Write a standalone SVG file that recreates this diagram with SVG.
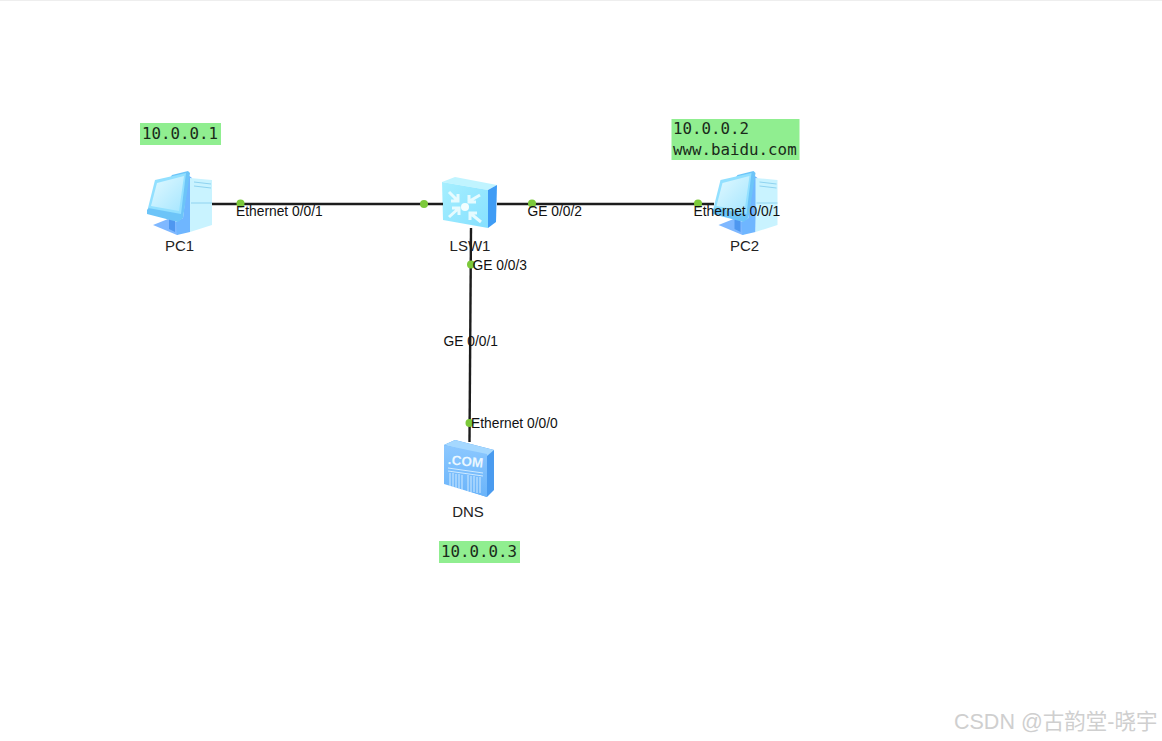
<svg xmlns="http://www.w3.org/2000/svg" width="1162" height="741" viewBox="0 0 1162 741">
<style>
text{font-family:"Liberation Sans",Arial,sans-serif;fill:#111}
.lbl{font-size:13.8px}
.name{font-size:15px;text-anchor:middle;fill:#222}
.ip{font-family:"DejaVu Sans Mono","Liberation Mono",monospace;font-size:15.8px;fill:#1a2a1a}
.box{fill:#90ee90}
.link{stroke:#1c1c1c;stroke-width:2.4;fill:none}
.dot{fill:#7cc93a}
.wm{font-family:"Liberation Sans","Noto Sans CJK SC",sans-serif;font-size:21.5px;fill:#cfcfcf}
</style>
<defs>
<linearGradient id="scr" x1="0" y1="0" x2="1" y2="1"><stop offset="0" stop-color="#e2f9ff"/><stop offset="1" stop-color="#a6e6ff"/></linearGradient>
<linearGradient id="sw" x1="0" y1="0" x2="1" y2="1"><stop offset="0" stop-color="#a6efff"/><stop offset="1" stop-color="#86e0ff"/></linearGradient>
<linearGradient id="dn" x1="0" y1="0" x2="0" y2="1"><stop offset="0" stop-color="#8cc8ff"/><stop offset="1" stop-color="#6ab4fa"/></linearGradient>
<g id="pc">
<path d="M153 225 L168 219 L190 226 L177 235Z" fill="#7fb8ff"/>
<path d="M169 217 L175 217 L175 232 L169 229Z" fill="#4e97f0"/>
<path d="M188 175 L192 178 L190 232 L177 235 L176 222 L183 218Z" fill="#6fb6ff"/>
<path d="M172 175 L188 171 L190 173 L183 218 L178 222 L147 214 L147 210Z" fill="#6cc4f8"/>
<path d="M155 180 L186 173 L181 214 L148 208Z" fill="#92e0ff"/>
<path d="M157 183 L184 176 L179 211 L151 206Z" fill="url(#scr)"/>
<path d="M190 178 L212 180 L212 225 L190 232Z" fill="#c9f3ff"/>
<path d="M194 182 L211 184 M194 186 L211 188 M191 203 L212 203" stroke="#8fd3f0" stroke-width="1" fill="none"/>
</g>
</defs>
<rect width="1162" height="741" fill="#fff"/>
<rect width="1162" height="1" fill="#eee"/>

<g id="PC1">
<use href="#pc"/>
<text class="name" x="179.500" y="251">PC1</text>
<rect class="box" x="140" y="123" width="81" height="22"/>
<text class="ip" x="142" y="138.500">10.0.0.1</text>
</g>

<g id="PC2">
<use href="#pc" x="565.500"/>
<text class="name" x="744.500" y="251">PC2</text>
<rect class="box" x="671.500" y="119" width="128" height="41"/>
<text class="ip" x="673" y="134">10.0.0.2</text>
<text class="ip" x="673" y="154.500">www.baidu.com</text>
</g>

<g id="LSW1">
<path d="M442 182 L455 177 L497 185 L488 190Z" fill="#c0f4ff"/>
<path d="M488 190 L497 185 L496 222 L488 228Z" fill="#3f9cf5"/>
<path d="M442 182 L488 190 L488 228 L443 220Z" fill="url(#sw)"/>
<g stroke="#e6fbff" stroke-width="3" fill="none">
<path d="M449 192L458 201M458 194V201H451"/>
<path d="M480 195L468 202M469 195V202H476"/>
<path d="M449 217L459 208M452 208H459V215"/>
<path d="M481 222L470 213M470 220V213H477"/>
</g>
<circle cx="465" cy="207" r="4" fill="#f2feff"/>
<text class="name" x="470" y="251">LSW1</text>
</g>

<g id="DNS">
<path d="M444 445 L455 440 L494 450 L494 490 L487 497 L444 483Z" fill="#4a9bef"/>
<path d="M444 445 L455 440 L494 450 L487 456Z" fill="#a5d8ff"/>
<path d="M444 445 L487 454 L487 497 L444 484Z" fill="url(#dn)"/>
<text x="465.500" y="466" font-size="13.500" font-weight="700" text-anchor="middle" style="fill:#eaf7ff" transform="rotate(6 466 462)">.COM</text>
<path d="M448 468L483 473M448 471L483 476" stroke="#cfeaff" stroke-width="1" fill="none"/>
<path d="M450 473V486M453 473V487M456 474V488M459 474V489M462 475V490M468 475V491M471 476V492M474 476V492M477 477V493M480 477V493" stroke="#cfeaff" stroke-width="1" fill="none"/>
<text class="name" x="468" y="517">DNS</text>
<rect class="box" x="439" y="541" width="81" height="22"/>
<text class="ip" x="441" y="556.500">10.0.0.3</text>
</g>

<g id="connectors">
<path class="link" d="M212 204H443"/>
<path class="link" d="M497 204H714"/>
<path class="link" d="M471 228L469.500 442"/>
<circle class="dot" cx="240.500" cy="203.500" r="4"/>
<circle class="dot" cx="424" cy="204" r="4"/>
<circle class="dot" cx="532" cy="203.500" r="4"/>
<circle class="dot" cx="698" cy="203.500" r="4"/>
<circle class="dot" cx="471" cy="264.500" r="4"/>
<circle class="dot" cx="469.500" cy="423" r="4"/>
<text class="lbl" x="236" y="216">Ethernet 0/0/1</text>
<text class="lbl" x="527.500" y="216">GE 0/0/2</text>
<text class="lbl" x="693.500" y="216">Ethernet 0/0/1</text>
<text class="lbl" x="472.500" y="269.500">GE 0/0/3</text>
<text class="lbl" x="443.500" y="346">GE 0/0/1</text>
<text class="lbl" x="471" y="427.500">Ethernet 0/0/0</text>
</g>

<text class="wm" x="954" y="729">CSDN @古韵堂-晓宇</text>
</svg>
